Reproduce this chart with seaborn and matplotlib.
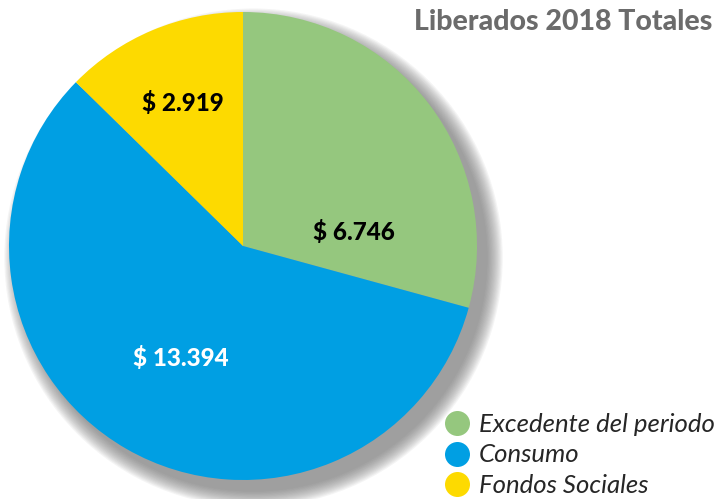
import matplotlib
matplotlib.use("Agg")
import matplotlib.pyplot as plt
import seaborn as sns
from matplotlib.lines import Line2D
from matplotlib.patches import Circle

# DATA

categories = ["Excedente del periodo", "Consumo", "Fondos Sociales"]
values = [6.746, 13.394, 2.919]
value_labels = ["$ 6.746", "$ 13.394", "$ 2.919"]
title = "Liberados 2018 Totales"

colors = ["#95C77E", "#009FE3", "#FDDA00"]
label_colors = ["black", "white", "black"]
label_pos = [(0.474, 0.060), (-0.265, -0.479), (-0.256, 0.611)]

sns.set_theme(style="white")
plt.rcParams['font.family'] = ['Lato', 'DejaVu Sans']

fig = plt.figure(figsize=(7.27, 4.99), dpi=100)
W, H = 727, 499
ax = fig.add_axes([9 / W, 19 / H, 468 / W, 468 / H])

# soft shadow under the pie
for i in range(14):
    ax.add_patch(Circle((0.045, -0.05), 1.0 + i * 0.005, color="#707070",
                        alpha=0.07, lw=0, zorder=0, clip_on=False))

wedges, _ = ax.pie(values, colors=colors, startangle=90, counterclock=False,
                   wedgeprops=dict(linewidth=0))
for w in wedges:
    w.set_zorder(2)

ax.set_xlim(-1, 1)
ax.set_ylim(-1, 1)
ax.set_aspect("equal")
ax.axis("off")

for lab, c, (x, y) in zip(value_labels, label_colors, label_pos):
    ax.text(x, y, lab, ha="center", va="center", color=c,
            fontsize=17.5, fontweight="black", zorder=3)

fig.text(712 / W, 1 - 22 / H, title, ha="right", va="center",
         fontsize=20.5, fontweight="black", color="#6b6b6b")

handles = [Line2D([0], [0], marker="o", linestyle="", markersize=18,
                  markerfacecolor=c, markeredgewidth=0) for c in colors]
fig.legend(handles, categories, loc="center left",
           bbox_to_anchor=(431 / W, 1 - 455 / H), frameon=False,
           prop=dict(family="Lato", style="italic", size=18.5),
           handletextpad=0.35, labelspacing=0.3, borderpad=0,
           handlelength=1.0)

fig.savefig("out.png", dpi=100)
